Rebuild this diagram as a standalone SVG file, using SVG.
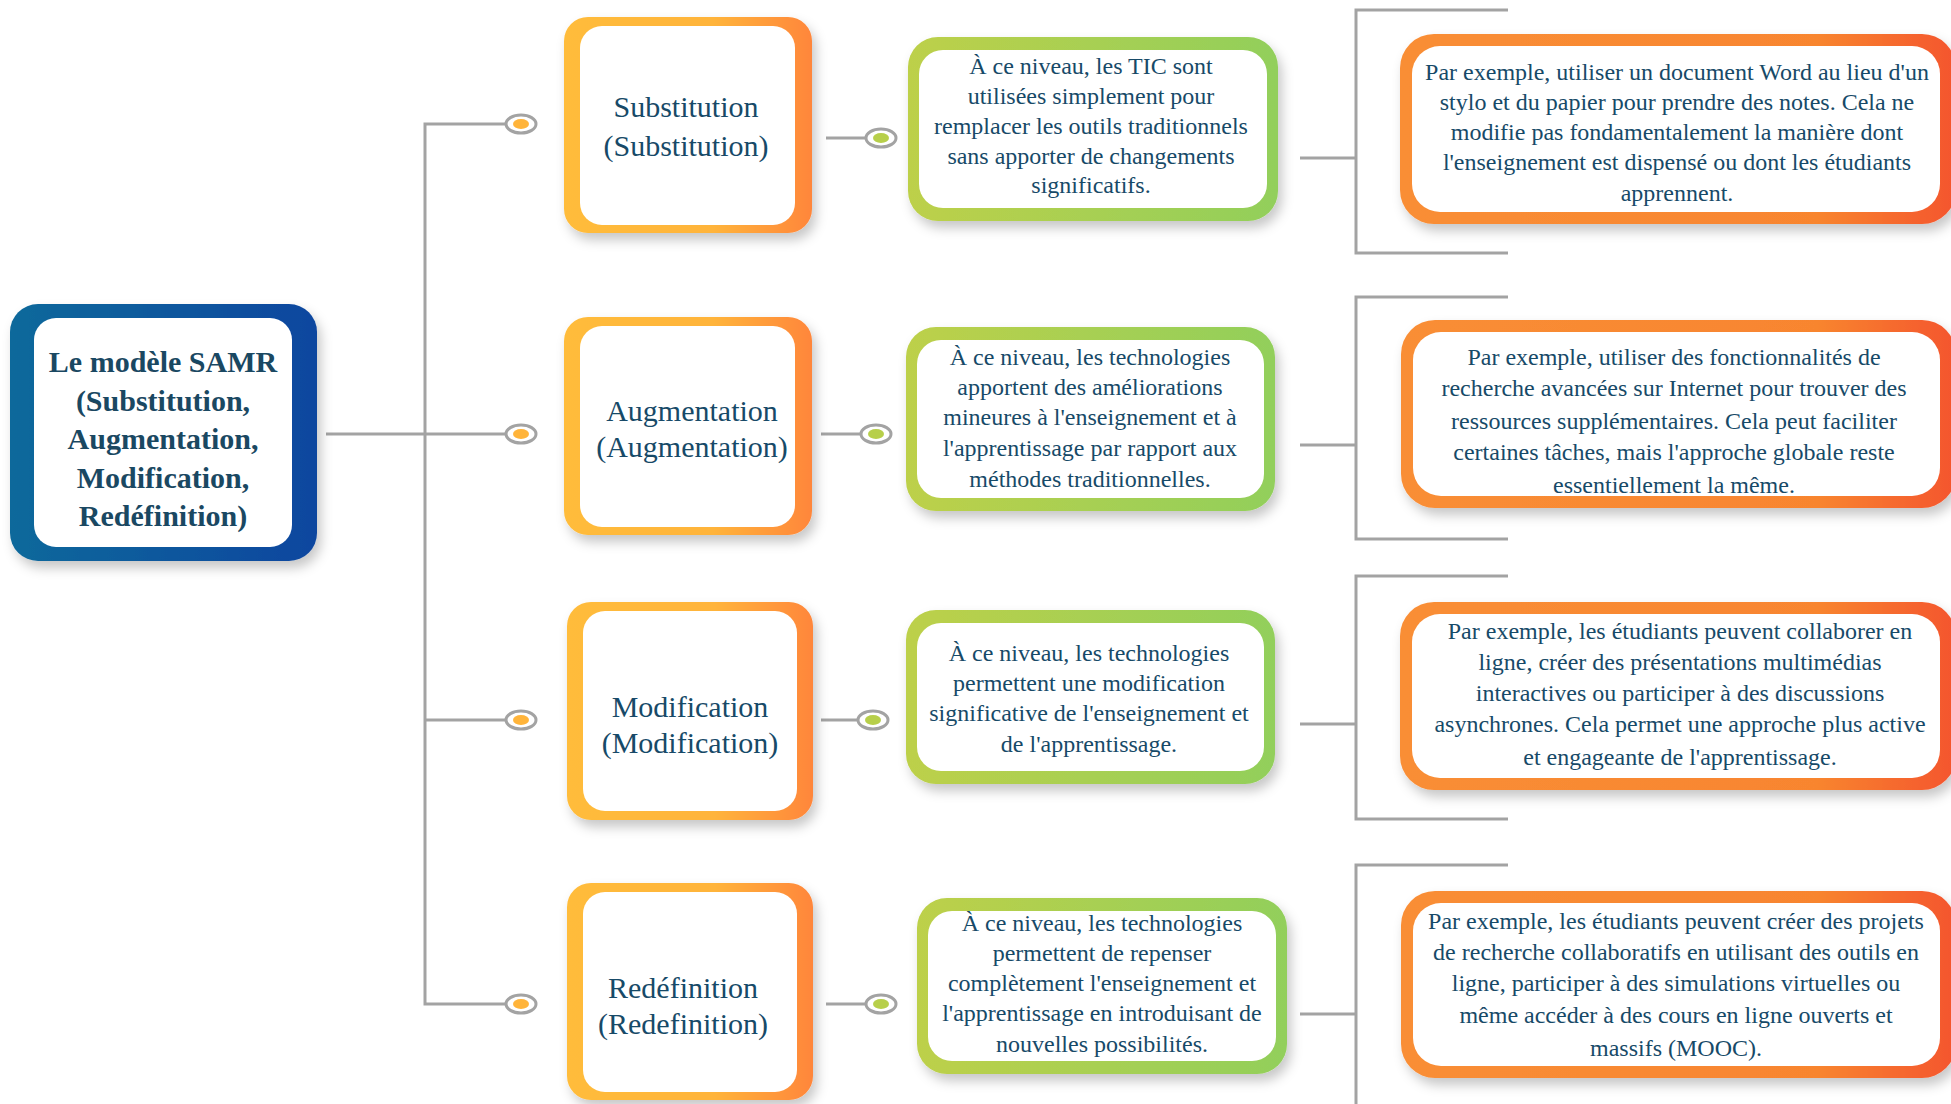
<svg xmlns="http://www.w3.org/2000/svg" width="1951" height="1104" viewBox="0 0 1951 1104">
  <defs>
    <linearGradient id="gRoot" x1="0" y1="0" x2="1" y2="0">
      <stop offset="0" stop-color="#11699B"/>
      <stop offset="1" stop-color="#0C469F"/>
    </linearGradient>
    <linearGradient id="gOrange" x1="0" y1="0" x2="1" y2="0">
      <stop offset="0" stop-color="#FFBC3B"/>
      <stop offset="0.6" stop-color="#FFB43B"/>
      <stop offset="1" stop-color="#FF863A"/>
    </linearGradient>
    <linearGradient id="gGreen" x1="0" y1="0" x2="1" y2="0">
      <stop offset="0" stop-color="#BDD04A"/>
      <stop offset="1" stop-color="#92CF5B"/>
    </linearGradient>
    <linearGradient id="gRed" x1="0" y1="0" x2="1" y2="0">
      <stop offset="0" stop-color="#F98E36"/>
      <stop offset="0.75" stop-color="#F8852F"/>
      <stop offset="1" stop-color="#F4552E"/>
    </linearGradient>
    <filter id="shadow" x="-10%" y="-10%" width="125%" height="130%">
      <feDropShadow dx="4" dy="7" stdDeviation="6" flood-color="#000" flood-opacity="0.22"/>
    </filter>
  </defs>
  <style>
    .line { fill: none; stroke: #A3A3A3; stroke-width: 3; }
    .ring { fill: #FFFFFF; stroke: #A3A3A3; stroke-width: 3; }
    .dotO { fill: #FFB43A; }
    .dotG { fill: #B7CF4A; }
    .inner { fill: #FFFFFF; }
    text { font-family: "Liberation Serif", "Times New Roman", serif; fill: #174A68; text-anchor: middle; }
    .root { font-size: 30px; font-weight: bold; fill: #1A4862; }
    .lvl1 { font-size: 30px; }
    .body { font-size: 24px; }
  </style>

  <rect width="1951" height="1104" fill="#FFFFFF"/>

  <!-- connectors -->
  <g id="connectors">
    <path class="line" d="M326 434 H425"/>
    <path class="line" d="M505 124 H425 V1004 H505"/>
    <path class="line" d="M425 434 H505"/>
    <path class="line" d="M425 720 H505"/>
    <path class="line" d="M826 138 H865"/>
    <path class="line" d="M821 434 H860"/>
    <path class="line" d="M821 720 H857"/>
    <path class="line" d="M826 1004 H865"/>
    <path class="line" d="M1300 158 H1356"/>
    <path class="line" d="M1300 445 H1356"/>
    <path class="line" d="M1300 724 H1356"/>
    <path class="line" d="M1300 1014 H1356"/>
    <path class="line" d="M1508 10 H1356 V253 H1508"/>
    <path class="line" d="M1508 297 H1356 V539 H1508"/>
    <path class="line" d="M1508 576 H1356 V819 H1508"/>
    <path class="line" d="M1508 865 H1356 V1106"/>
    <ellipse class="ring" cx="521" cy="124" rx="15" ry="9"/>
    <ellipse class="dotO" cx="521" cy="124" rx="8" ry="5"/>
    <ellipse class="ring" cx="521" cy="434" rx="15" ry="9"/>
    <ellipse class="dotO" cx="521" cy="434" rx="8" ry="5"/>
    <ellipse class="ring" cx="521" cy="720" rx="15" ry="9"/>
    <ellipse class="dotO" cx="521" cy="720" rx="8" ry="5"/>
    <ellipse class="ring" cx="521" cy="1004" rx="15" ry="9"/>
    <ellipse class="dotO" cx="521" cy="1004" rx="8" ry="5"/>
    <ellipse class="ring" cx="881" cy="138" rx="15" ry="9"/>
    <ellipse class="dotG" cx="881" cy="138" rx="8" ry="5"/>
    <ellipse class="ring" cx="876" cy="434" rx="15" ry="9"/>
    <ellipse class="dotG" cx="876" cy="434" rx="8" ry="5"/>
    <ellipse class="ring" cx="873" cy="720" rx="15" ry="9"/>
    <ellipse class="dotG" cx="873" cy="720" rx="8" ry="5"/>
    <ellipse class="ring" cx="881" cy="1004" rx="15" ry="9"/>
    <ellipse class="dotG" cx="881" cy="1004" rx="8" ry="5"/>
  </g>

  <!-- central topic -->
  <g id="root">
    <rect x="10" y="304" width="307" height="257" rx="28" fill="url(#gRoot)" filter="url(#shadow)"/>
    <rect class="inner" x="34" y="318" width="258" height="229" rx="22"/>
    <text class="root" x="163" y="372">Le modèle SAMR</text>
    <text class="root" x="163" y="411">(Substitution,</text>
    <text class="root" x="163" y="449">Augmentation,</text>
    <text class="root" x="163" y="488">Modification,</text>
    <text class="root" x="163" y="526">Redéfinition)</text>
  </g>

  <!-- level 1: the four stages -->
  <g id="stage-substitution">
    <rect x="564" y="17" width="248" height="216" rx="24" fill="url(#gOrange)" filter="url(#shadow)"/>
    <rect class="inner" x="580" y="26" width="215" height="199" rx="22"/>
    <text class="lvl1" x="686" y="117">Substitution</text>
    <text class="lvl1" x="686" y="156">(Substitution)</text>
  </g>
  <g id="stage-augmentation">
    <rect x="564" y="317" width="248" height="218" rx="24" fill="url(#gOrange)" filter="url(#shadow)"/>
    <rect class="inner" x="580" y="326" width="215" height="201" rx="22"/>
    <text class="lvl1" x="692" y="421">Augmentation</text>
    <text class="lvl1" x="692" y="457">(Augmentation)</text>
  </g>
  <g id="stage-modification">
    <rect x="567" y="602" width="246" height="218" rx="24" fill="url(#gOrange)" filter="url(#shadow)"/>
    <rect class="inner" x="583" y="611" width="214" height="200" rx="22"/>
    <text class="lvl1" x="690" y="717">Modification</text>
    <text class="lvl1" x="690" y="753">(Modification)</text>
  </g>
  <g id="stage-redefinition">
    <rect x="567" y="883" width="246" height="217" rx="24" fill="url(#gOrange)" filter="url(#shadow)"/>
    <rect class="inner" x="583" y="892" width="214" height="200" rx="22"/>
    <text class="lvl1" x="683" y="998">Redéfinition</text>
    <text class="lvl1" x="683" y="1034">(Redefinition)</text>
  </g>

  <!-- level 2: descriptions -->
  <g id="desc-substitution">
    <rect x="908" y="37" width="370" height="184" rx="30" fill="url(#gGreen)" filter="url(#shadow)"/>
    <rect class="inner" x="919" y="50" width="348" height="158" rx="24"/>
    <text class="body" x="1091" y="74">À ce niveau, les TIC sont</text>
    <text class="body" x="1091" y="104">utilisées simplement pour</text>
    <text class="body" x="1091" y="134">remplacer les outils traditionnels</text>
    <text class="body" x="1091" y="164">sans apporter de changements</text>
    <text class="body" x="1091" y="193">significatifs.</text>
  </g>
  <g id="desc-augmentation">
    <rect x="906" y="327" width="369" height="184" rx="30" fill="url(#gGreen)" filter="url(#shadow)"/>
    <rect class="inner" x="917" y="340" width="347" height="158" rx="24"/>
    <text class="body" x="1090" y="365">À ce niveau, les technologies</text>
    <text class="body" x="1090" y="395">apportent des améliorations</text>
    <text class="body" x="1090" y="425">mineures à l'enseignement et à</text>
    <text class="body" x="1090" y="456">l'apprentissage par rapport aux</text>
    <text class="body" x="1090" y="487">méthodes traditionnelles.</text>
  </g>
  <g id="desc-modification">
    <rect x="906" y="610" width="369" height="174" rx="30" fill="url(#gGreen)" filter="url(#shadow)"/>
    <rect class="inner" x="917" y="623" width="347" height="148" rx="24"/>
    <text class="body" x="1089" y="661">À ce niveau, les technologies</text>
    <text class="body" x="1089" y="691">permettent une modification</text>
    <text class="body" x="1089" y="721">significative de l'enseignement et</text>
    <text class="body" x="1089" y="752">de l'apprentissage.</text>
  </g>
  <g id="desc-redefinition">
    <rect x="917" y="898" width="370" height="176" rx="30" fill="url(#gGreen)" filter="url(#shadow)"/>
    <rect class="inner" x="928" y="911" width="348" height="150" rx="24"/>
    <text class="body" x="1102" y="931">À ce niveau, les technologies</text>
    <text class="body" x="1102" y="961">permettent de repenser</text>
    <text class="body" x="1102" y="991">complètement l'enseignement et</text>
    <text class="body" x="1102" y="1021">l'apprentissage en introduisant de</text>
    <text class="body" x="1102" y="1052">nouvelles possibilités.</text>
  </g>

  <!-- level 3: examples -->
  <g id="example-substitution">
    <rect x="1400" y="34" width="556" height="190" rx="34" fill="url(#gRed)" filter="url(#shadow)"/>
    <rect class="inner" x="1412" y="46" width="528" height="166" rx="28"/>
    <text class="body" x="1677" y="80">Par exemple, utiliser un document Word au lieu d'un</text>
    <text class="body" x="1677" y="110">stylo et du papier pour prendre des notes. Cela ne</text>
    <text class="body" x="1677" y="140">modifie pas fondamentalement la manière dont</text>
    <text class="body" x="1677" y="170">l'enseignement est dispensé ou dont les étudiants</text>
    <text class="body" x="1677" y="201">apprennent.</text>
  </g>
  <g id="example-augmentation">
    <rect x="1401" y="320" width="555" height="188" rx="34" fill="url(#gRed)" filter="url(#shadow)"/>
    <rect class="inner" x="1413" y="332" width="527" height="164" rx="28"/>
    <text class="body" x="1674" y="365">Par exemple, utiliser des fonctionnalités de</text>
    <text class="body" x="1674" y="396">recherche avancées sur Internet pour trouver des</text>
    <text class="body" x="1674" y="429">ressources supplémentaires. Cela peut faciliter</text>
    <text class="body" x="1674" y="460">certaines tâches, mais l'approche globale reste</text>
    <text class="body" x="1674" y="493">essentiellement la même.</text>
  </g>
  <g id="example-modification">
    <rect x="1400" y="602" width="556" height="188" rx="34" fill="url(#gRed)" filter="url(#shadow)"/>
    <rect class="inner" x="1412" y="614" width="528" height="164" rx="28"/>
    <text class="body" x="1680" y="639">Par exemple, les étudiants peuvent collaborer en</text>
    <text class="body" x="1680" y="670">ligne, créer des présentations multimédias</text>
    <text class="body" x="1680" y="701">interactives ou participer à des discussions</text>
    <text class="body" x="1680" y="732">asynchrones. Cela permet une approche plus active</text>
    <text class="body" x="1680" y="765">et engageante de l'apprentissage.</text>
  </g>
  <g id="example-redefinition">
    <rect x="1401" y="891" width="555" height="187" rx="34" fill="url(#gRed)" filter="url(#shadow)"/>
    <rect class="inner" x="1413" y="903" width="527" height="163" rx="28"/>
    <text class="body" x="1676" y="929">Par exemple, les étudiants peuvent créer des projets</text>
    <text class="body" x="1676" y="960">de recherche collaboratifs en utilisant des outils en</text>
    <text class="body" x="1676" y="991">ligne, participer à des simulations virtuelles ou</text>
    <text class="body" x="1676" y="1023">même accéder à des cours en ligne ouverts et</text>
    <text class="body" x="1676" y="1056">massifs (MOOC).</text>
  </g>
</svg>
